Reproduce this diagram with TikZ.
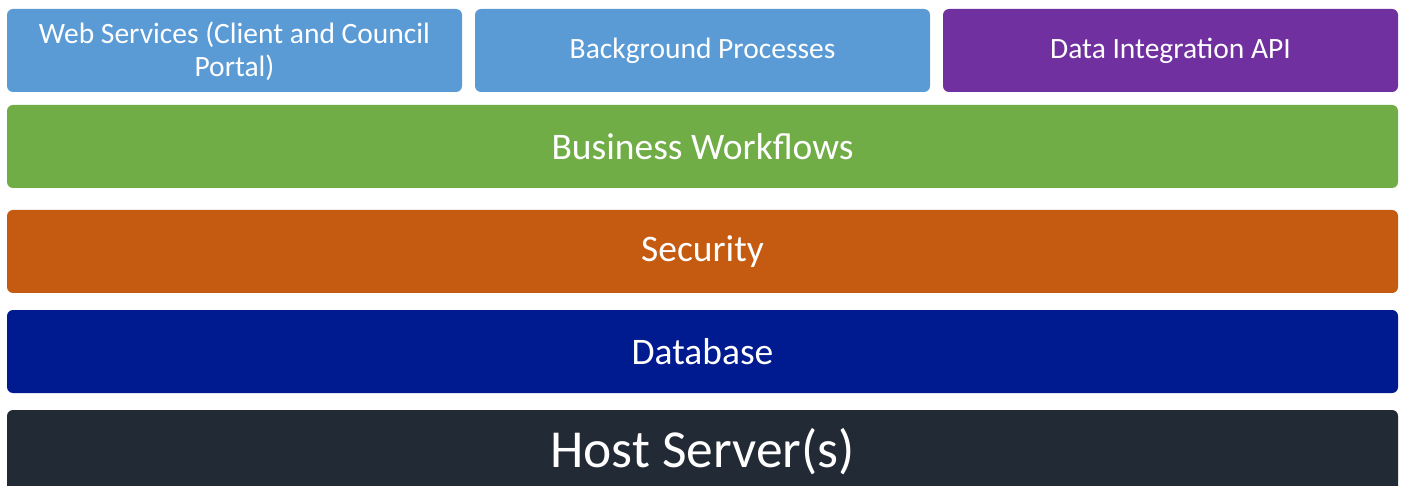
\documentclass[tikz,border=0pt]{standalone}
\usepackage{fontspec}
\setmainfont{Carlito}
\definecolor{lblue}{HTML}{5B9BD5}
\definecolor{purp}{HTML}{7030A0}
\definecolor{grn}{HTML}{70AD47}
\definecolor{orng}{HTML}{C55A11}
\definecolor{dblue}{HTML}{001A8F}
\definecolor{dark}{HTML}{222A35}
\begin{document}
\begin{tikzpicture}[x=1pt,y=-1pt,
  layer/.style={rounded corners=6pt},
  lbl/.style={text=white,align=center,inner sep=0pt}]
\useasboundingbox (0,0) rectangle (1405,486);
\clip (0,0) rectangle (1405,486);
\fill[lblue,layer] (7,9) rectangle (462,92);
\fill[lblue,layer] (475,9) rectangle (930,92);
\fill[purp,layer] (943,9) rectangle (1398,92);
\fill[grn,layer] (7,105) rectangle (1398,188);
\fill[orng,layer] (7,210) rectangle (1398,293);
\fill[dblue,layer] (7,310) rectangle (1398,393);
\fill[dark,layer] (7,410) rectangle (1398,520);
\node[lbl,font=\fontsize{29.5}{33}\selectfont] (web) at (234.5,51) {Web Services (Client and Council\\Portal)};
\node[lbl,font=\fontsize{29.5}{33}\selectfont] (bg) at (702.5,51) {Background Processes};
\node[lbl,font=\fontsize{29.5}{33}\selectfont] (api) at (1170.5,51) {Data Integration API};
\node[lbl,font=\fontsize{37.5}{44}\selectfont] (bw) at (702.5,147) {Business Workflows};
\node[lbl,font=\fontsize{37.5}{44}\selectfont] (sec) at (702.5,252) {Security};
\node[lbl,font=\fontsize{37.5}{44}\selectfont] (db) at (702.5,352) {Database};
\node[lbl,font=\fontsize{53.5}{62}\selectfont] (host) at (702.5,452) {Host Server(s)};
\end{tikzpicture}
\end{document}
